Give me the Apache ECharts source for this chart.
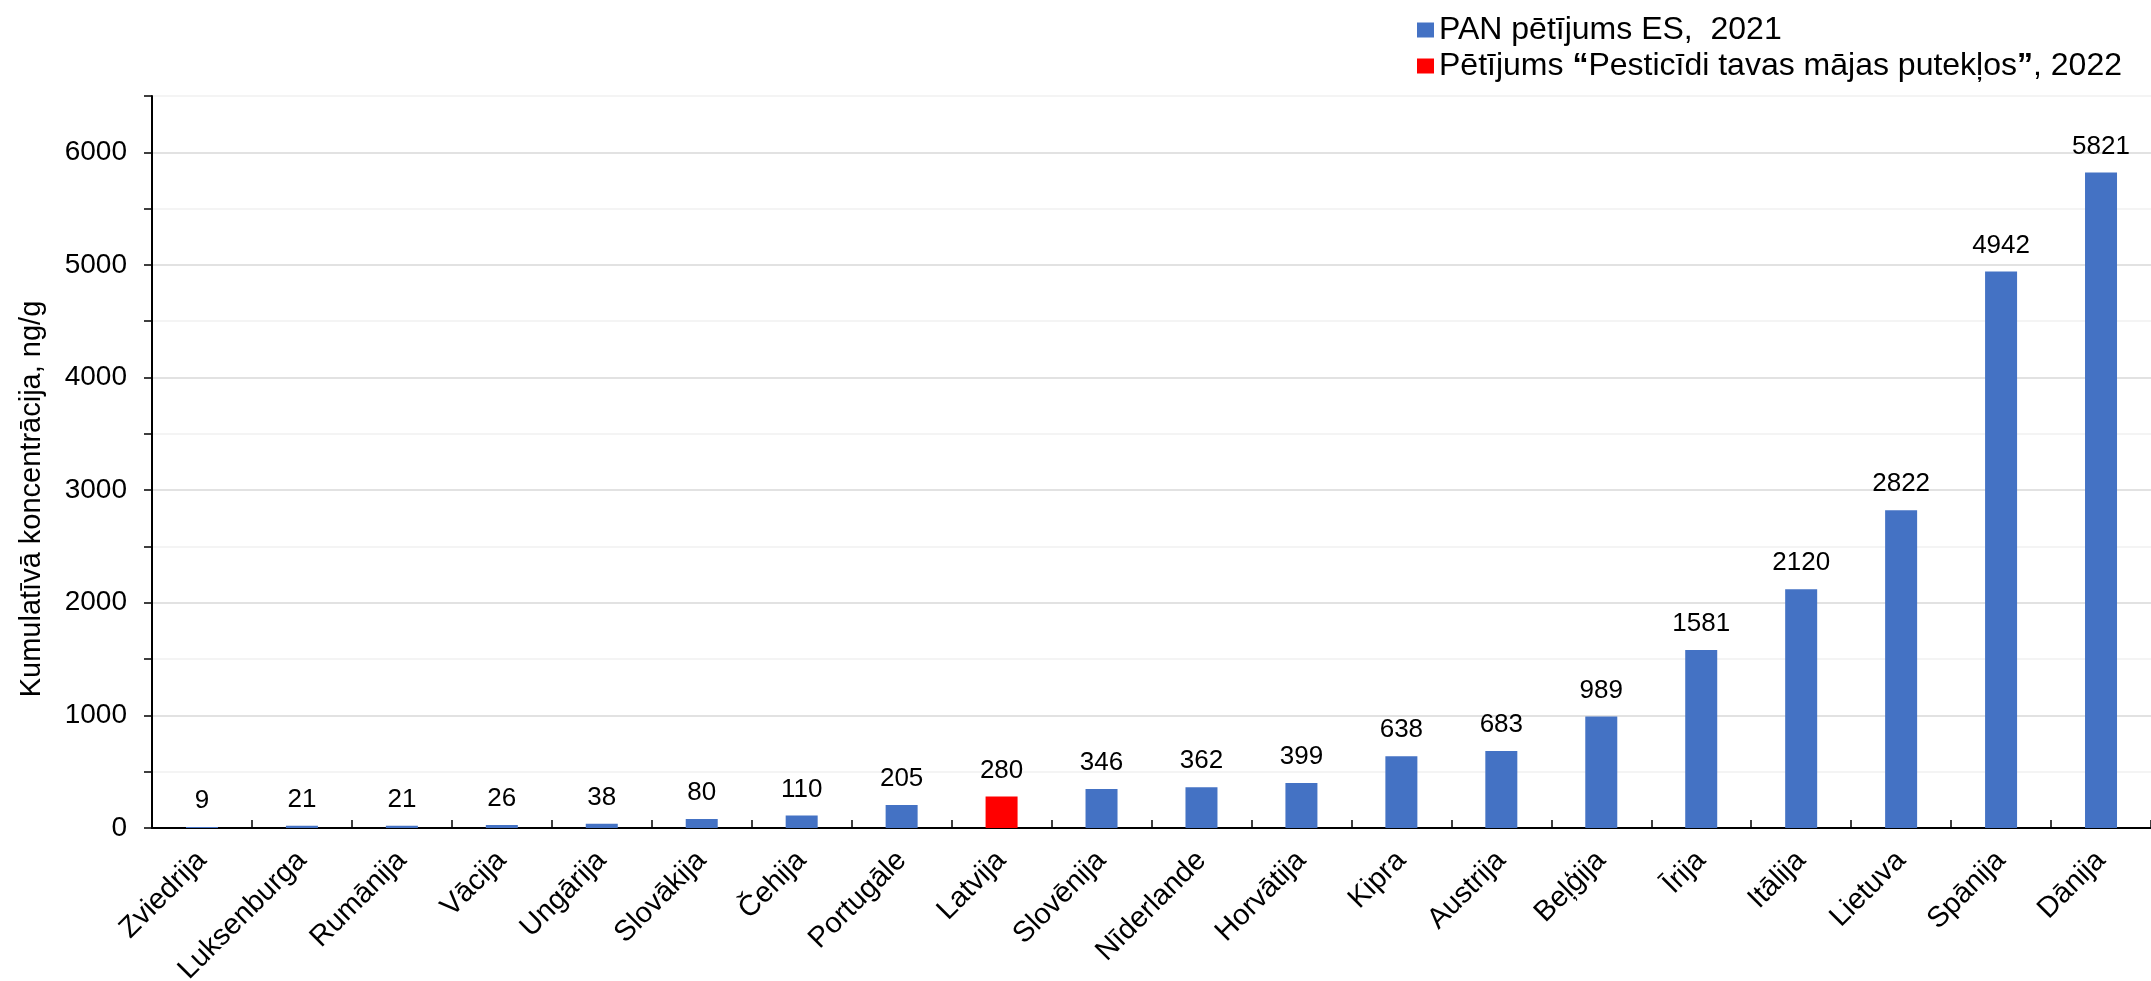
<!DOCTYPE html>
<html>
<head>
<meta charset="utf-8">
<script src="https://cdn.jsdelivr.net/npm/echarts@6/dist/echarts.min.js"></script>
<style>
html,body{margin:0;padding:0;background:#fff;}
#chart{width:2151px;height:981px;}
</style>
</head>
<body>
<div id="chart"></div>
<script>
var countries = ['Zviedrija','Luksenburga','Rumānija','Vācija','Ungārija','Slovākija','Čehija','Portugāle','Latvija','Slovēnija','Nīderlande','Horvātija','Kipra','Austrija','Beļģija','Īrija','Itālija','Lietuva','Spānija','Dānija'];
var panValues = [9,21,21,26,38,80,110,205,'-',346,362,399,638,683,989,1581,2120,2822,4942,5821];
var lvValues  = ['-','-','-','-','-','-','-','-',280,'-','-','-','-','-','-','-','-','-','-','-'];
var panName = 'PAN pētījums ES,  2021';
var lvName  = 'Pētījums “Pesticīdi tavas mājas putekļos”, 2022';

var font = 'Liberation Sans, Arial, sans-serif';
var chart = echarts.init(document.getElementById('chart'));

var labelStyle = {
    show: true,
    position: 'top',
    distance: 13,
    color: '#000',
    fontFamily: font,
    fontSize: 26
};

var option = {
    animation: false,
    textStyle: {fontFamily: font},
    legend: {
        orient: 'vertical',
        left: 1412,
        top: 9,
        itemWidth: 17,
        itemHeight: 15,
        itemGap: 4,
        icon: 'rect',
        formatter: function(name){
            // the quotes are bold in the original
            return name.replace(/[“”]/g, function(q){ return '{b|' + q + '}'; });
        },
        textStyle: {
            fontFamily: font, fontSize: 32, color: '#000',
            rich: {b: {fontFamily: font, fontSize: 32, fontWeight: 'bold', color: '#000'}}
        },
        data: [panName, lvName]
    },
    grid: {left: 152, right: 0, top: 96, bottom: 153, outerBoundsMode: 'none'},
    xAxis: {
        type: 'category',
        data: countries,
        boundaryGap: true,
        axisLine: {lineStyle: {color: '#000', width: 2}},
        axisTick: {show: true, inside: true, length: 8, lineStyle: {color: '#000', width: 1.5}},
        axisLabel: {rotate: 45, interval: 0, margin: 28, color: '#000', fontFamily: font, fontSize: 29}
    },
    yAxis: {
        type: 'value',
        min: 0,
        max: 6500,
        interval: 500,
        name: 'Kumulatīvā koncentrācija, ng/g',
        nameLocation: 'middle',
        nameGap: 106,
        nameTextStyle: {fontFamily: font, fontSize: 29, color: '#000', padding: [0, 74, 0, 0]},
        axisLine: {show: true, lineStyle: {color: '#000', width: 2}},
        axisTick: {show: true, length: 8, lineStyle: {color: '#000', width: 1.5}},
        axisLabel: {
            color: '#000', fontFamily: font, fontSize: 28, margin: 25,
            formatter: function(v){ return v % 1000 === 0 ? v : ''; }
        },
        splitLine: {show: true, lineStyle: {color: ['#d9d9d9', '#f0f0f0'], width: 1.5}}
    },
    series: [
        {
            name: panName,
            type: 'bar',
            stack: 'all',
            barWidth: 32,
            itemStyle: {color: '#4472c4'},
            label: labelStyle,
            data: panValues
        },
        {
            name: lvName,
            type: 'bar',
            stack: 'all',
            barWidth: 32,
            itemStyle: {color: '#ff0000'},
            label: labelStyle,
            data: lvValues
        }
    ]
};
chart.setOption(option);
</script>
</body>
</html>
